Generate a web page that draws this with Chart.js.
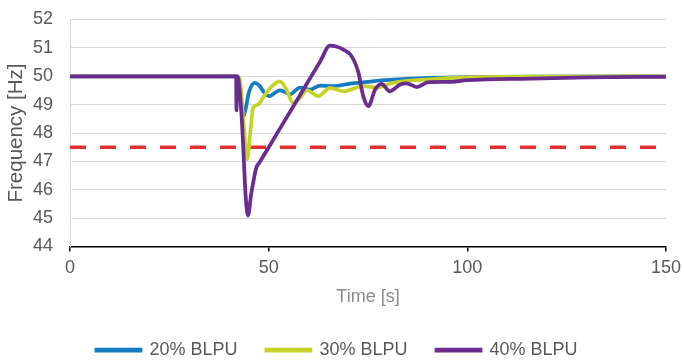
<!DOCTYPE html>
<html>
<head>
<meta charset="utf-8">
<script src="https://cdn.jsdelivr.net/npm/chart.js@4.4.1/dist/chart.umd.min.js"></script>
<style>
  html, body { margin: 0; padding: 0; background: #fff; }
  canvas { display: block; }
</style>
</head>
<body>
<canvas id="freqChart" width="684" height="361"></canvas>
<script>
  // time [s] and frequency [Hz], one pair per series
  const time20 = [0, 41.8, 42.6, 43.5, 44.2, 45.0, 46.5, 47.6, 48.9, 50.3, 51.6, 52.8, 54.0, 55.3, 57.9, 60.4, 62.9, 66.2, 70.5, 75, 78.9, 84, 90.2, 100, 120, 150];
  const freq20 = [50, 50, 49.9, 48.54, 48.85, 49.42, 49.77, 49.68, 49.42, 49.3, 49.42, 49.5, 49.45, 49.36, 49.6, 49.53, 49.67, 49.65, 49.74, 49.8, 49.86, 49.9, 49.94, 49.97, 49.99, 50];

  const time30 = [0, 41.8, 42.7, 43.6, 44.6, 45.3, 46.1, 47.3, 48.6, 50.6, 52.8, 54.4, 56.1, 57.9, 59.6, 62.5, 65.4, 68.8, 73.8, 77.2, 81.4, 90.2, 100, 120, 150];
  const freq30 = [50, 50, 49.9, 48.5, 47.08, 47.9, 48.89, 49.0, 49.25, 49.62, 49.82, 49.55, 49.07, 49.24, 49.5, 49.3, 49.59, 49.47, 49.65, 49.6, 49.77, 49.89, 49.96, 49.99, 50];

  const time40 = [0, 41.8, 41.9, 42.1, 42.3, 43.1, 43.6, 44.2, 44.8, 45.6, 46.9, 47.7, 52, 56, 60, 63, 65.4, 67, 68.8, 70.9, 72.6, 73.8, 75.1, 76.8, 78.4, 80.5, 83.1, 84.7, 87.3, 90.2, 95, 100, 116, 130, 150];
  const freq40 = [50, 50, 48.8, 50, 49.95, 48.8, 47.5, 45.8, 45.09, 45.85, 46.78, 46.96, 47.96, 48.89, 49.83, 50.53, 51.08, 51.05, 50.94, 50.7, 50.12, 49.3, 48.95, 49.53, 49.73, 49.47, 49.71, 49.75, 49.62, 49.79, 49.8, 49.86, 49.92, 49.96, 49.98];

  // 47.5 Hz limit
  const limitTime = [0, 150];
  const limitFreq = [47.5, 47.5];

  const seriesNames = ['20% BLPU', '30% BLPU', '40% BLPU'];

  function points(ts, fs) {
    return ts.map((t, i) => ({ x: t, y: fs[i] }));
  }

  const font = 'Liberation Sans, Arial, sans-serif';

  function line(label, ts, fs, color, order) {
    return {
      label: label,
      data: points(ts, fs),
      borderColor: color,
      backgroundColor: color,
      borderWidth: 3.75,
      pointRadius: 0,
      cubicInterpolationMode: 'monotone',
      order: order
    };
  }

  // nudge the legend row a few px right
  const legendShift = {
    id: 'legendShift',
    afterLayout(chart) {
      chart.legend.left += 4;
      chart.legend.right += 4;
    }
  };

  new Chart(document.getElementById('freqChart'), {
    type: 'line',
    data: {
      datasets: [
        line(seriesNames[0], time20, freq20, '#137cc3', 3),
        line(seriesNames[1], time30, freq30, '#c4d22a', 2),
        line(seriesNames[2], time40, freq40, '#6a2d8f', 1),
        {
          label: 'limit',
          data: points(limitTime, limitFreq),
          borderColor: '#e9302f',
          borderWidth: 3.5,
          borderDash: [16, 14],
          pointRadius: 0,
          order: 4
        }
      ]
    },
    options: {
      responsive: false,
      animation: false,
      devicePixelRatio: 1,
      layout: { padding: { top: 19.5, right: 18, bottom: 0, left: 0 } },
      plugins: {
        tooltip: { enabled: false },
        legend: {
          position: 'bottom',
          maxHeight: 49,
          labels: {
            filter: item => item.text !== 'limit',
            sort: (a, b) => a.datasetIndex - b.datasetIndex,
            boxWidth: 44,
            boxHeight: 1,
            padding: 29,
            color: '#595959',
            font: { family: font, size: 18 }
          }
        }
      },
      scales: {
        x: {
          type: 'linear',
          min: 0,
          max: 150,
          ticks: { stepSize: 50, color: '#595959', padding: 6, font: { family: font, size: 18 } },
          grid: { drawOnChartArea: false, color: '#000', lineWidth: 1.5, tickLength: 5 },
          border: { color: '#000', width: 1.5 },
          title: {
            display: true,
            text: 'Time [s]',
            color: '#8c8c8c',
            font: { family: font, size: 18 },
            padding: { top: 7, bottom: 4 }
          },
          afterFit: scale => {
            scale.height = 65.5;
            scale.paddingLeft = 0;
            scale.paddingRight = 0;
          }
        },
        y: {
          min: 44,
          max: 52,
          ticks: { stepSize: 1, color: '#595959', padding: 17, font: { family: font, size: 18 } },
          grid: { color: '#d9d9d9', lineWidth: 1, drawTicks: false },
          border: { color: '#d9d9d9', width: 1 },
          title: {
            display: true,
            text: 'Frequency [Hz]',
            color: '#595959',
            font: { family: font, size: 20.5 },
            padding: { top: 4, bottom: 4 }
          },
          afterFit: scale => {
            scale.width = 70;
            scale.paddingTop = 0;
            scale.paddingBottom = 0;
          }
        }
      }
    },
    plugins: [legendShift]
  });
</script>
</body>
</html>
